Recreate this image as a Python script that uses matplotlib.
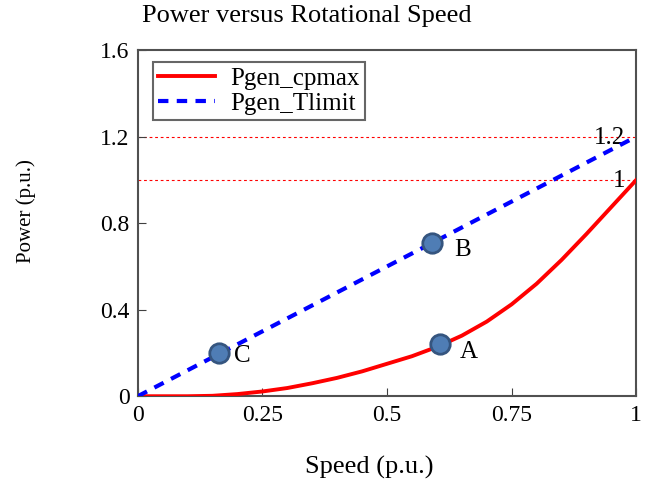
import matplotlib
matplotlib.use("Agg")
import matplotlib.pyplot as plt

speed_cp = [0, 0.1, 0.15, 0.2, 0.25, 0.3, 0.35, 0.4, 0.45, 0.5, 0.55, 0.6, 0.65,
            0.7, 0.75, 0.8, 0.85, 0.9, 0.95, 1.0]
pgen_cpmax = [0, 0, 0.002, 0.01, 0.022, 0.038, 0.06, 0.085, 0.115, 0.15, 0.185, 0.228,
              0.28, 0.345, 0.425, 0.52, 0.63, 0.75, 0.875, 1.0]
speed_t = [0, 0.25, 0.5, 0.75, 1.0]
pgen_tlimit = [0, 0.3, 0.6, 0.9, 1.2]
pts_x = [0.606, 0.59, 0.163]
pts_y = [0.24, 0.71, 0.198]
pts_lab = ["A", "B", "C"]
hlines = [1.2, 1.0]
hline_labels = ["1.2", "1"]

plt.rcParams['font.family'] = ['Liberation Serif', 'DejaVu Serif']

fig = plt.figure(figsize=(6.56, 4.91), dpi=100)
ax = fig.add_axes([0.210, 0.193, 0.760, 0.705])

for h, lab in zip(hlines, hline_labels):
    ax.axhline(h, color='red', lw=0.8, ls=(0, (2.5, 2.5)), zorder=1)
    ax.text(0.978, h - 0.005, lab, ha='right', va='center', fontsize=18, zorder=2)

ax.plot(speed_cp, pgen_cpmax, color='red', lw=2.8, label='Pgen_cpmax', zorder=3)
ax.plot(speed_t, pgen_tlimit, color='blue', lw=3, ls=(0, (2.5, 2)), label='Pgen_Tlimit', zorder=3)

ax.plot(pts_x, pts_y, 'o', ms=14, mfc='#4f7db5', mec='#35557f', mew=2, zorder=5, ls='none')
offs = [(0.04, -0.035), (0.045, -0.035), (0.03, -0.01)]
for x, y, l, (dx, dy) in zip(pts_x, pts_y, pts_lab, offs):
    ax.text(x + dx, y + dy, l, fontsize=18, ha='left', va='center', zorder=6)

ax.set_xlim(0, 1)
ax.set_ylim(0, 1.6)
ax.set_xticks([0, 0.25, 0.5, 0.75, 1])
ax.set_xticklabels(['0', '0.25', '0.5', '0.75', '1'])
ax.set_yticks([0, 0.4, 0.8, 1.2, 1.6])
ax.set_yticklabels(['0', '0.4', '0.8', '1.2', '1.6'])
ax.tick_params(direction='in', labelsize=17, length=6, color='#404040', pad=6)
for s in ax.spines.values():
    s.set_color('#505050')
    s.set_linewidth(1.5)

ax.set_title('Power versus Rotational Speed', fontsize=19, pad=20, x=0.34)
ax.set_xlabel('Speed (p.u.)', fontsize=19)
ax.xaxis.set_label_coords(0.464, -0.172)
ax.set_ylabel('Power (p.u.)', fontsize=15)
ax.yaxis.set_label_coords(-0.205, 0.536)

leg = ax.legend(loc='upper left', fontsize=18, frameon=True, fancybox=False,
                edgecolor='#404040', handlelength=2.3, handletextpad=0.6,
                borderpad=0.2, labelspacing=0.1, borderaxespad=0,
                bbox_to_anchor=(0.03, 0.965))
leg.get_frame().set_linewidth(1.5)

fig.savefig('out.png', dpi=100)
